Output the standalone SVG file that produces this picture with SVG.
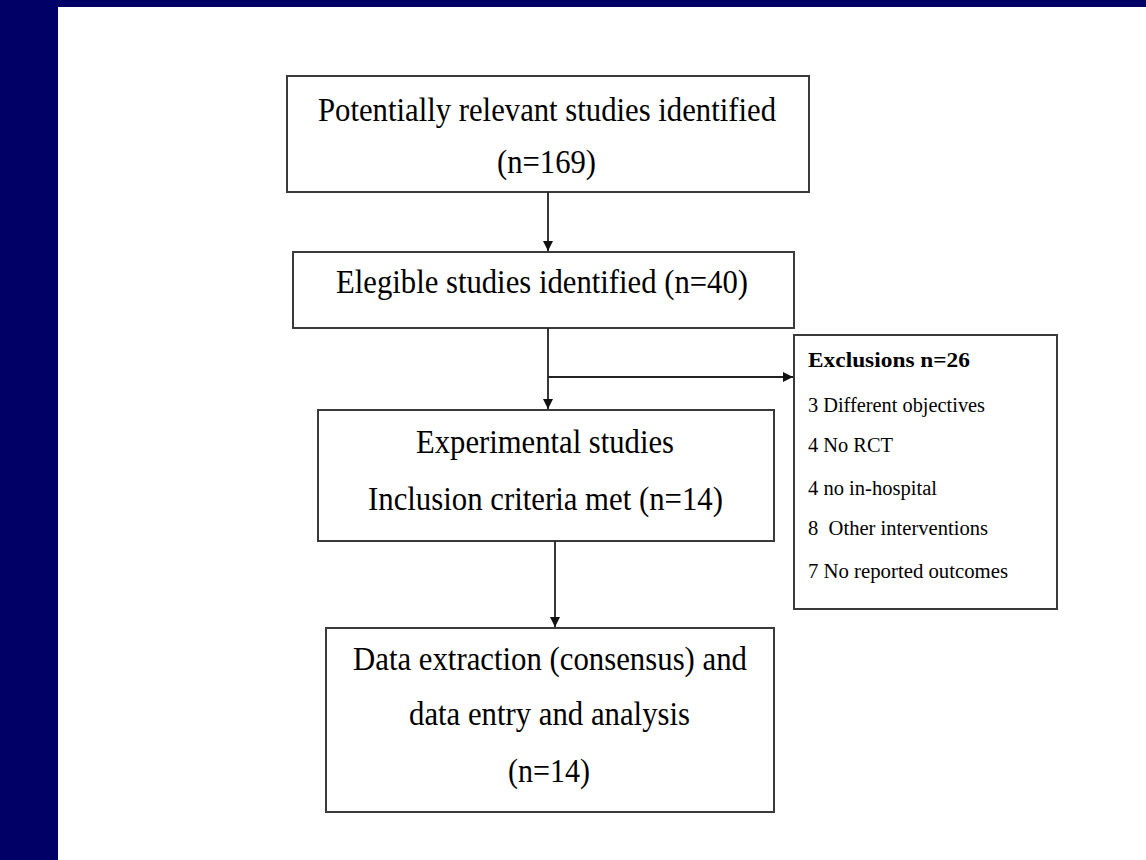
<svg xmlns="http://www.w3.org/2000/svg" width="1146" height="860" viewBox="0 0 1146 860">
  <defs>
    <marker id="arr" viewBox="0 0 10 10" refX="10" refY="5" markerWidth="10" markerHeight="11" markerUnits="userSpaceOnUse" orient="auto">
      <path d="M0,0 L10,5 L0,10 z" fill="#111"/>
    </marker>
    <style>
      .box { fill: #fff; stroke: #3a3a3a; stroke-width: 2; }
      .t { font-family: "Liberation Serif", "Times New Roman", serif; font-size: 34px; fill: #000; }
      .s { font-family: "Liberation Serif", "Times New Roman", serif; font-size: 20px; fill: #000; white-space: pre; }
      .b { font-weight: bold; font-size: 21px; }
      .c { stroke: #222; stroke-width: 1.8; fill: none; }
    </style>
  </defs>
  <rect x="0" y="0" width="1146" height="860" fill="#000066"/>
  <rect x="58" y="7" width="1088" height="853" fill="#ffffff"/>

  <g id="n1">
    <rect class="box" x="287" y="76" width="522" height="116"/>
    <text class="t" x="318" y="121" textLength="458" lengthAdjust="spacingAndGlyphs">Potentially relevant studies identified</text>
    <text class="t" x="497" y="173" textLength="99" lengthAdjust="spacingAndGlyphs">(n=169)</text>
  </g>
  <g id="n2">
    <rect class="box" x="293" y="252" width="501" height="76"/>
    <text class="t" x="336" y="293" textLength="412" lengthAdjust="spacingAndGlyphs">Elegible studies identified (n=40)</text>
  </g>
  <g id="n3">
    <rect class="box" x="318" y="410" width="456" height="131"/>
    <text class="t" x="416" y="453" textLength="258" lengthAdjust="spacingAndGlyphs">Experimental studies</text>
    <text class="t" x="368" y="510" textLength="355" lengthAdjust="spacingAndGlyphs">Inclusion criteria met (n=14)</text>
  </g>
  <g id="n4">
    <rect class="box" x="326" y="628" width="448" height="184"/>
    <text class="t" x="353" y="670" textLength="394" lengthAdjust="spacingAndGlyphs">Data extraction (consensus) and</text>
    <text class="t" x="409" y="725" textLength="281" lengthAdjust="spacingAndGlyphs">data entry and analysis</text>
    <text class="t" x="508" y="782" textLength="82" lengthAdjust="spacingAndGlyphs">(n=14)</text>
  </g>
  <g id="n5">
    <rect class="box" x="794" y="335" width="263" height="274"/>
    <text class="s b" x="808" y="367" textLength="162" lengthAdjust="spacingAndGlyphs">Exclusions n=26</text>
    <text class="s" x="808" y="412" textLength="177" lengthAdjust="spacingAndGlyphs">3 Different objectives</text>
    <text class="s" x="808" y="452" textLength="85" lengthAdjust="spacingAndGlyphs">4 No RCT</text>
    <text class="s" x="808" y="495" textLength="129" lengthAdjust="spacingAndGlyphs">4 no in-hospital</text>
    <text class="s" x="808" y="535" textLength="180" lengthAdjust="spacingAndGlyphs">8  Other interventions</text>
    <text class="s" x="808" y="578" textLength="200" lengthAdjust="spacingAndGlyphs">7 No reported outcomes</text>
  </g>

  <g id="connectors">
    <line class="c" x1="548" y1="192" x2="548" y2="251" marker-end="url(#arr)"/>
    <line class="c" x1="548" y1="328" x2="548" y2="409" marker-end="url(#arr)"/>
    <line class="c" x1="548" y1="377" x2="793" y2="377" marker-end="url(#arr)"/>
    <line class="c" x1="555" y1="541" x2="555" y2="627" marker-end="url(#arr)"/>
  </g>
</svg>
